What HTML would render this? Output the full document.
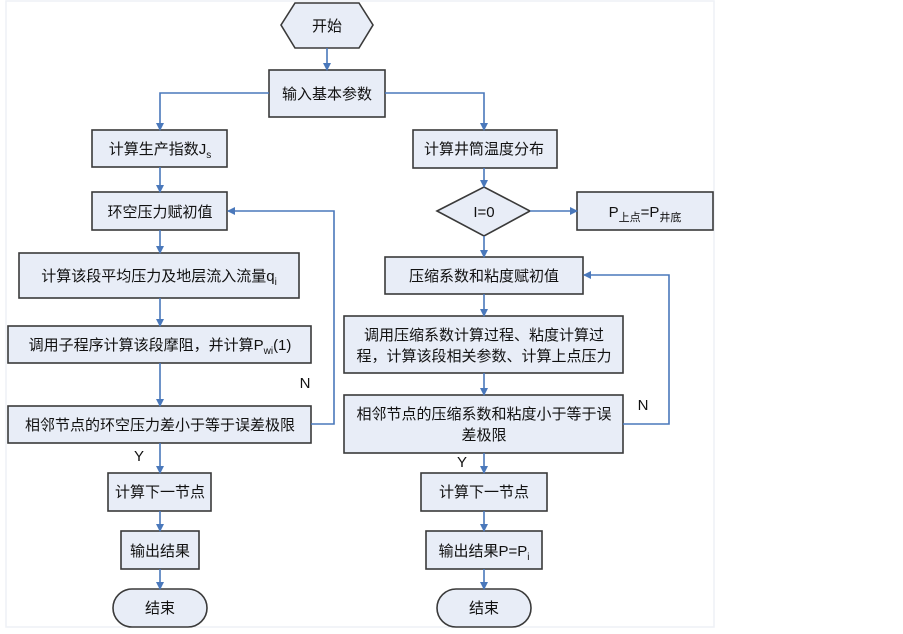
<!DOCTYPE html>
<html><head><meta charset="utf-8"><style>
html,body{margin:0;padding:0;background:#fff;}
svg text{font-family:"Liberation Sans","Noto Sans CJK SC",sans-serif;font-size:15px;fill:#111;}
</style></head><body>
<svg width="903" height="629" viewBox="0 0 903 629" xmlns="http://www.w3.org/2000/svg">
<defs>
<marker id="a" markerWidth="8" markerHeight="8" refX="7" refY="4" orient="auto" markerUnits="userSpaceOnUse"><path d="M0,0 L8,4 L0,8 Z" fill="#4a78bb"/></marker>
</defs>
<rect x="6" y="1" width="708" height="626" fill="none" stroke="#eef1f6" stroke-width="1.5"/>
<g fill="#e8edf7" stroke="#3a3a3a" stroke-width="1.6">
<polygon points="281,25 295,3 359,3 373,25 359,48 295,48"/>
<rect x="269" y="70" width="116" height="47"/>
<rect x="92" y="130" width="135" height="37"/>
<rect x="92" y="192" width="135" height="38"/>
<rect x="19" y="253" width="280" height="45"/>
<rect x="8" y="326" width="303" height="37"/>
<rect x="8" y="406" width="303" height="37"/>
<rect x="108" y="473" width="103" height="38"/>
<rect x="121" y="531" width="78" height="38"/>
<rect x="113" y="589" width="94" height="38" rx="19"/>
<rect x="413" y="130" width="144" height="38"/>
<polygon points="437,211 484,187 530,211 484,236"/>
<rect x="577" y="192" width="136" height="38"/>
<rect x="385" y="257" width="198" height="37"/>
<rect x="344" y="316" width="279" height="57"/>
<rect x="344" y="395" width="279" height="58"/>
<rect x="421" y="473" width="126" height="38"/>
<rect x="426" y="531" width="116" height="38"/>
<rect x="437" y="589" width="94" height="38" rx="19"/>
</g>
<g fill="none" stroke="#4a78bb" stroke-width="1.6" marker-end="url(#a)">
<path d="M327,48 V70"/>
<path d="M269,93 H160 V130"/>
<path d="M385,93 H484 V130"/>
<path d="M160,167 V192"/>
<path d="M160,230 V253"/>
<path d="M160,298 V326"/>
<path d="M160,363 V406"/>
<path d="M160,443 V473"/>
<path d="M160,511 V531"/>
<path d="M160,569 V589"/>
<path d="M311,424 H334 V211 H228"/>
<path d="M484,168 V187"/>
<path d="M530,211 H577"/>
<path d="M484,236 V257"/>
<path d="M484,294 V316"/>
<path d="M484,373 V395"/>
<path d="M484,453 V473"/>
<path d="M484,511 V531"/>
<path d="M484,569 V589"/>
<path d="M623,424 H669 V275 H584"/>
</g>
<g text-anchor="middle">
<text x="327" y="31">开始</text>
<text x="327" y="99">输入基本参数</text>
<text x="160" y="154">计算生产指数J<tspan font-size="10" dy="4">s</tspan></text>
<text x="160" y="217">环空压力赋初值</text>
<text x="159" y="281">计算该段平均压力及地层流入流量q<tspan font-size="10" dy="4">i</tspan></text>
<text x="160" y="350">调用子程序计算该段摩阻，并计算P<tspan font-size="10" dy="4">wi</tspan><tspan dy="-4">(1)</tspan></text>
<text x="160" y="430">相邻节点的环空压力差小于等于误差极限</text>
<text x="160" y="497">计算下一节点</text>
<text x="160" y="556">输出结果</text>
<text x="160" y="613">结束</text>
<text x="484" y="154">计算井筒温度分布</text>
<text x="484" y="217">I=0</text>
<text x="645" y="217">P<tspan font-size="11" dy="4">上点</tspan><tspan dy="-4">=P</tspan><tspan font-size="11" dy="4">井底</tspan></text>
<text x="484" y="281">压缩系数和粘度赋初值</text>
<text x="484" y="340">调用压缩系数计算过程、粘度计算过</text>
<text x="484" y="361">程，计算该段相关参数、计算上点压力</text>
<text x="484" y="419">相邻节点的压缩系数和粘度小于等于误</text>
<text x="484" y="440">差极限</text>
<text x="484" y="497">计算下一节点</text>
<text x="484" y="556">输出结果P=P<tspan font-size="10" dy="4">i</tspan></text>
<text x="484" y="613">结束</text>
<text x="305" y="388" font-size="13">N</text>
<text x="643" y="410" font-size="13">N</text>
<text x="139" y="461" font-size="13">Y</text>
<text x="462" y="467" font-size="13">Y</text>
</g>
</svg>
</body></html>
